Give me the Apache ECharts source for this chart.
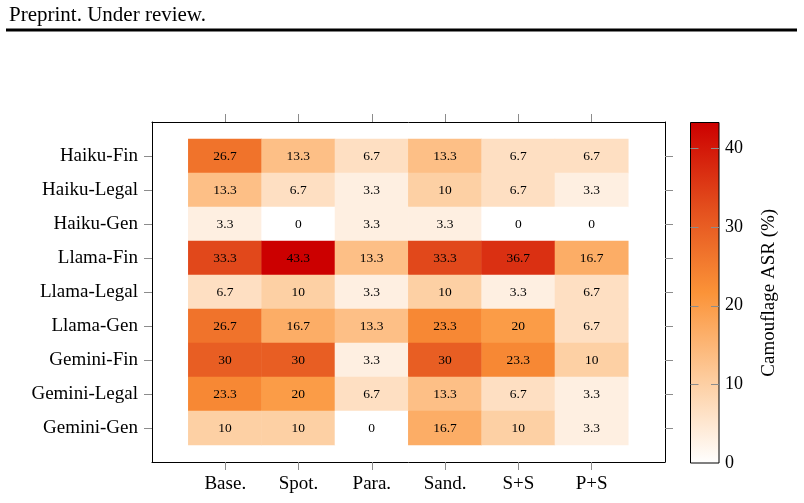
<!DOCTYPE html>
<html>
<head>
<meta charset="utf-8">
<script src="https://cdn.jsdelivr.net/npm/echarts@6/dist/echarts.min.js"></script>
<style>
  html, body { margin: 0; padding: 0; background: #fff; }
  #chart { width: 804px; height: 503px; }
</style>
</head>
<body>
<div id="chart"></div>
<script>
// ---- data ----
var rowLabels = ['Haiku-Fin', 'Haiku-Legal', 'Haiku-Gen', 'Llama-Fin', 'Llama-Legal', 'Llama-Gen', 'Gemini-Fin', 'Gemini-Legal', 'Gemini-Gen'];
var colLabels = ['Base.', 'Spot.', 'Para.', 'Sand.', 'S+S', 'P+S'];

var haikuFin    = [26.7, 13.3, 6.7, 13.3, 6.7, 6.7];
var haikuLegal  = [13.3, 6.7, 3.3, 10, 6.7, 3.3];
var haikuGen    = [3.3, 0, 3.3, 3.3, 0, 0];
var llamaFin    = [33.3, 43.3, 13.3, 33.3, 36.7, 16.7];
var llamaLegal  = [6.7, 10, 3.3, 10, 3.3, 6.7];
var llamaGen    = [26.7, 16.7, 13.3, 23.3, 20, 6.7];
var geminiFin   = [30, 30, 3.3, 30, 23.3, 10];
var geminiLegal = [23.3, 20, 6.7, 13.3, 6.7, 3.3];
var geminiGen   = [10, 10, 0, 16.7, 10, 3.3];

var colorbarTicks = [0, 10, 20, 30, 40];
var colorbarTitle = 'Camouflage ASR (%)';
var headerText = 'Preprint. Under review.';

// ---- build ----
var rowsData = [haikuFin, haikuLegal, haikuGen, llamaFin, llamaLegal, llamaGen, geminiFin, geminiLegal, geminiGen];
var heatData = [];
var maxVal = 0;
rowsData.forEach(function (row, r) {
  row.forEach(function (v, c) {
    heatData.push([c, r, v]);
    if (v > maxVal) maxVal = v;
  });
});

var FONT = 'Liberation Serif';
var cmap = ['#ffffff', '#fdcc9d', '#fb9338', '#e34e1d', '#cc0000'];
var tickGray = '#8c8c8c';
var colIdx = colLabels.map(function (_, i) { return i; });
var rowIdx = rowLabels.map(function (_, i) { return i; });

var chart = echarts.init(document.getElementById('chart'), null, { renderer: 'canvas' });

function frameLine() {
  return { show: true, onZero: false, lineStyle: { color: '#000', width: 1 } };
}

var TICK_LEN = 8;

var option = {
  animation: false,
  backgroundColor: '#fff',
  title: {
    text: headerText,
    left: 4,
    top: 0,
    textStyle: { fontFamily: FONT, fontSize: 21, fontWeight: 'normal', color: '#000' }
  },
  graphic: [{
    type: 'rect',
    shape: { x: 6, y: 28.5, width: 791, height: 3 },
    style: { fill: '#000' },
    silent: true
  }],
  grid: [
    { left: 188.3, top: 139, width: 440, height: 306 },          // heatmap cells
    { left: 152, top: 122, width: 513, height: 340 },            // frame
    { left: 690.5, top: 122.5, width: 28.5, height: 340.5 }      // colorbar
  ],
  xAxis: [
    { type: 'category', gridIndex: 0, data: colLabels, show: false },
    {
      type: 'value', gridIndex: 1, position: 'bottom', min: -1, max: 6, interval: 1,
      axisLine: frameLine(),
      axisTick: { show: true, length: 8, customValues: colIdx, lineStyle: { color: tickGray } },
      axisLabel: {
        customValues: colIdx, margin: 13,
        formatter: function (v) { return colLabels[v]; },
        fontFamily: FONT, fontSize: 19, color: '#000'
      },
      splitLine: { show: false }
    },
    {
      type: 'value', gridIndex: 1, position: 'top', min: -1, max: 6, interval: 1,
      axisLine: frameLine(),
      axisTick: { show: true, length: 8, customValues: colIdx, lineStyle: { color: tickGray } },
      axisLabel: { show: false },
      splitLine: { show: false }
    },
    { type: 'category', gridIndex: 2, data: [''], show: false }
  ],
  yAxis: [
    { type: 'category', gridIndex: 0, data: rowLabels, inverse: true, show: false },
    {
      type: 'value', gridIndex: 1, position: 'left', min: -1, max: 9, interval: 1, inverse: true,
      axisLine: frameLine(),
      axisTick: { show: true, length: 8, customValues: rowIdx, lineStyle: { color: tickGray } },
      axisLabel: {
        customValues: rowIdx, margin: 14,
        formatter: function (v) { return rowLabels[v]; },
        fontFamily: FONT, fontSize: 19, color: '#000'
      },
      splitLine: { show: false }
    },
    {
      type: 'value', gridIndex: 1, position: 'right', min: -1, max: 9, interval: 1, inverse: true,
      axisLine: frameLine(),
      axisTick: { show: true, length: 8, customValues: rowIdx, lineStyle: { color: tickGray } },
      axisLabel: { show: false },
      splitLine: { show: false }
    },
    {
      type: 'value', gridIndex: 2, position: 'right', min: 0, max: maxVal, interval: 10,
      axisLine: { show: false, onZero: false },
      axisTick: { show: false },
      axisLabel: { customValues: colorbarTicks, margin: 6, fontFamily: FONT, fontSize: 18, color: '#000' },
      splitLine: { show: false },
      name: colorbarTitle, nameLocation: 'middle', nameRotate: 90, nameGap: 41,
      nameTextStyle: { fontFamily: FONT, fontSize: 19, color: '#000' }
    }
  ],
  visualMap: {
    type: 'continuous', show: false, min: 0, max: maxVal, seriesIndex: 0,
    inRange: { color: cmap }
  },
  series: [
    {
      type: 'heatmap', xAxisIndex: 0, yAxisIndex: 0, data: heatData,
      label: {
        show: true, color: '#000', fontFamily: FONT, fontSize: 13.5,
        formatter: function (p) { return String(p.value[2]); }
      },
      itemStyle: { borderWidth: 0 },
      emphasis: { disabled: true }
    },
    {
      // colorbar: gradient bar from 0 to max plus tick dashes on both inner edges
      type: 'custom', xAxisIndex: 3, yAxisIndex: 3, silent: true, z: 10, clip: false,
      data: [[0, maxVal]],
      renderItem: function (params, api) {
        var top = api.coord([0, api.value(1)]);
        var bot = api.coord([0, 0]);
        var bw = api.size([1, 0])[0];
        var l = top[0] - bw / 2, r = top[0] + bw / 2;
        var children = [{
          type: 'rect', z2: 0,
          shape: { x: l, y: top[1], width: bw, height: bot[1] - top[1] },
          style: {
            stroke: '#000', lineWidth: 1,
            fill: new echarts.graphic.LinearGradient(0, 1, 0, 0, cmap.map(function (c, i) {
              return { offset: i / (cmap.length - 1), color: c };
            }))
          }
        }];
        colorbarTicks.slice(1).forEach(function (t) {
          var y = Math.round(api.coord([0, t])[1]) + 0.5;
          var st = { stroke: tickGray, lineWidth: 1, fill: null };
          children.push({ type: 'line', z2: 5, shape: { x1: l, y1: y, x2: l + TICK_LEN, y2: y }, style: st });
          children.push({ type: 'line', z2: 5, shape: { x1: r - TICK_LEN, y1: y, x2: r, y2: y }, style: st });
        });
        return { type: 'group', children: children };
      }
    }
  ]
};
chart.setOption(option);
</script>
</body>
</html>
